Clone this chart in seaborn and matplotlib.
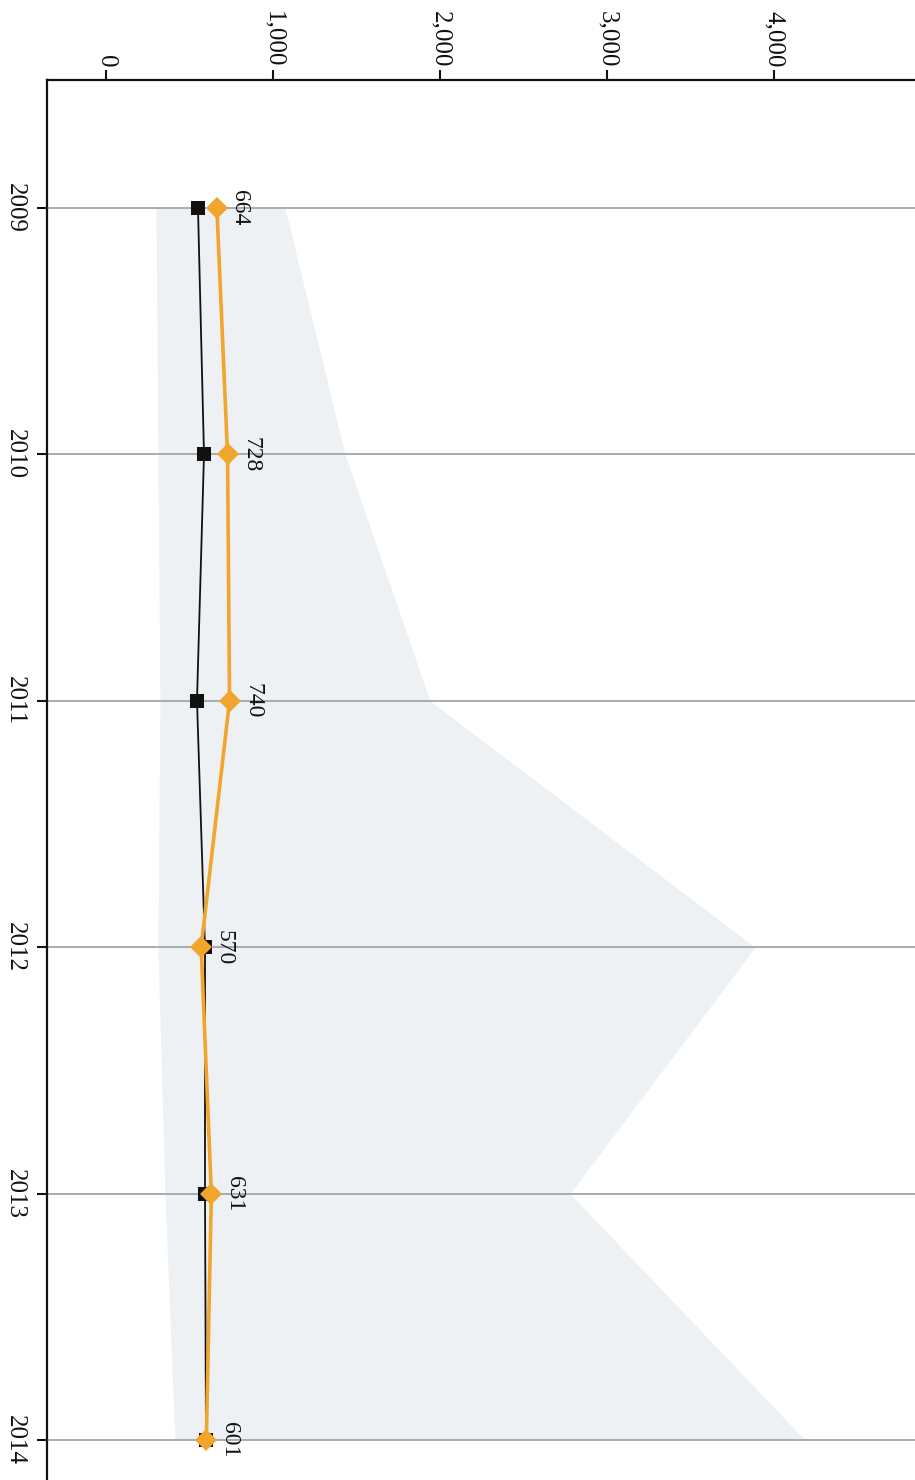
import matplotlib
matplotlib.use("Agg")
import matplotlib.pyplot as plt
import seaborn as sns
import pandas as pd
from matplotlib.ticker import FuncFormatter

# Data
years = [2009, 2010, 2011, 2012, 2013, 2014]
observed = [664, 728, 740, 570, 631, 601]
expected = [551, 587, 545, 593, 593, 599]
band_low = [300, 311, 323, 311, 353, 413]
band_high = [1072, 1431, 1940, 3886, 2778, 4186]
value_ticks = [0, 1000, 2000, 3000, 4000]

sns.set_theme(style="white")
plt.rcParams["font.family"] = ["Liberation Serif", "DejaVu Serif"]

fig = plt.figure(figsize=(9.15, 14.8), dpi=100)
ax = fig.add_axes([47 / 915, 0.0, 1 - 47 / 915, 1 - 80 / 1480])

# control band
ax.fill_betweenx(years, band_low, band_high, color="#edf1f4", lw=0, zorder=1)

# year grid lines
for y in years:
    ax.axhline(y, color="#a9acae", lw=1.4, zorder=2)

df = pd.DataFrame({"year": years, "observed": observed, "expected": expected})

sns.lineplot(data=df, x="expected", y="year", orient="y", sort=True,
             estimator=None, color="#111111", lw=1.3, marker="s",
             markersize=10, markeredgewidth=0, ax=ax, zorder=3)
sns.lineplot(data=df, x="observed", y="year", orient="y", sort=True,
             estimator=None, color="#f2a52c", lw=2.6, marker="D",
             markersize=11, markeredgewidth=0, ax=ax, zorder=4)

for y, v in zip(years, observed):
    ax.annotate(f"{v}", xy=(v, y), xytext=(9, 0), textcoords="offset points",
                rotation=270, ha="left", va="center", fontsize=17,
                color="#111111", zorder=5)

ax.set_xlim(-353, 4844)
ax.set_ylim(2014.162, 2008.481)

ax.xaxis.tick_top()
ax.set_xticks(value_ticks)
ax.xaxis.set_major_formatter(FuncFormatter(lambda v, p: f"{int(v):,}"))
ax.set_yticks(years)
ax.set_yticklabels([str(y) for y in years])

ax.tick_params(axis="x", which="major", direction="out", length=7, width=1.5,
               pad=2, labelsize=18, colors="#111111", top=True, bottom=False,
               labelrotation=270)
ax.tick_params(axis="y", which="major", direction="out", length=7, width=1.5,
               pad=8, labelsize=18, colors="#111111", left=True,
               labelrotation=270)
for lab in ax.get_yticklabels():
    lab.set_va("center")

ax.set_xlabel("")
ax.set_ylabel("")
for side in ("right", "bottom"):
    ax.spines[side].set_visible(False)
for side in ("top", "left"):
    ax.spines[side].set_color("#111111")
    ax.spines[side].set_linewidth(1.6)

fig.savefig("out.png", dpi=100, facecolor="white")
